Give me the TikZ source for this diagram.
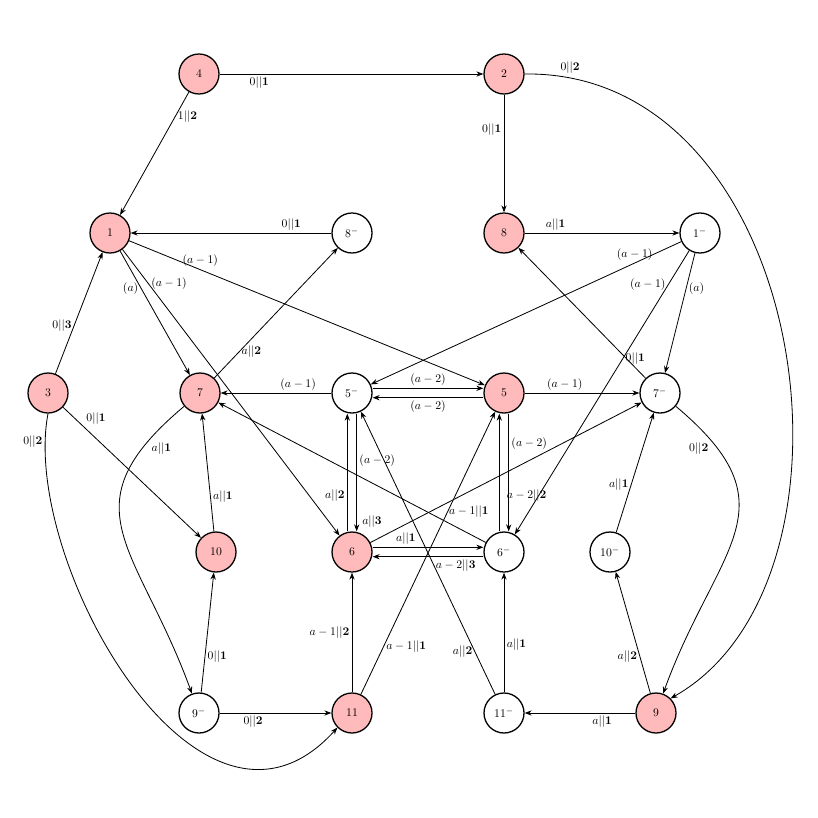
\documentclass[tikz,border=0pt]{standalone}
\usetikzlibrary{arrows.meta}
\definecolor{pk}{HTML}{FFBBBB}
\begin{document}
\begin{tikzpicture}[x=0.03cm,y=-0.03cm,
  st/.style={circle,draw,line width=1.1pt,minimum size=1.2cm,inner sep=0pt,font=\normalsize},
  red/.style={st,fill=pk},
  wht/.style={st,fill=white},
  lb/.style={font=\normalsize,inner sep=2pt},
  e/.style={-{Stealth[length=6pt,width=4.5pt]},line width=0.7pt}]
\useasboundingbox (0,0) rectangle (818,818);
\node[red] (n4) at (199,74) {4};
\node[red] (n2) at (504,74) {2};
\node[red] (n1) at (110,233) {1};
\node[wht] (m8) at (352,233) {$8^-$};
\node[red] (n8) at (504,233) {8};
\node[wht] (m1) at (700,233) {$1^-$};
\node[red] (n3) at (48,393) {3};
\node[red] (n7) at (200,393) {7};
\node[wht] (m5) at (352,393) {$5^-$};
\node[red] (n5) at (504,393) {5};
\node[wht] (m7) at (660,393) {$7^-$};
\node[red] (n10) at (216,552) {10};
\node[red] (n6) at (352,552) {6};
\node[wht] (m6) at (504,552) {$6^-$};
\node[wht] (m10) at (610,552) {$10^-$};
\node[wht] (m9) at (199,713) {$9^-$};
\node[red] (n11) at (352,713) {11};
\node[wht] (m11) at (504,713) {$11^-$};
\node[red] (n9) at (656,713) {9};

\draw[e] (n4) -- node[lb,pos=0.15,below]{$0||\mathbf{1}$} (n2);
\draw[e] (n4) -- node[lb,pos=0.2,right]{$1||\mathbf{2}$} (n1);
\draw[e] (n2) -- node[lb,pos=0.3,left]{$0||\mathbf{1}$} (n8);
\draw[e] (n2.east) .. controls (810,70) and (880,580) .. node[lb,pos=0.04,above right]{$0||\mathbf{2}$} (n9.north east);
\draw[e] (n8) -- node[lb,pos=0.2,above]{$a||\mathbf{1}$} (m1);
\draw[e] (m8) -- node[lb,pos=0.2,above]{$0||\mathbf{1}$} (n1);
\draw[e] (n1) -- node[lb,pos=0.3,left]{$(a)$} (n7);
\draw[e] (n1) -- node[lb,pos=0.2,above]{$(a-1)$} (n5);
\draw[e] (n1) -- node[lb,pos=0.12,right]{$(a-1)$} (n6);
\draw[e] (n7) -- node[lb,pos=0.2,right]{$a||\mathbf{2}$} (m8);
\draw[e] (m5) -- node[lb,pos=0.3,above]{$(a-1)$} (n7);
\draw[e] (m1) -- node[lb,pos=0.15,above]{$(a-1)$} (m5);
\draw[e] (m1) -- node[lb,pos=0.12,left]{$(a-1)$} node[lb,pos=0.38,right]{$0||\mathbf{1}$} (m6);
\draw[e] (m1) -- node[lb,pos=0.3,right]{$(a)$} (m7);
\draw[e] (m7) -- (n8);
\draw[e] (n5) -- node[lb,pos=0.35,above]{$(a-1)$} (m7);
\draw[e] ([yshift=4pt]m5.east) -- node[lb,above]{$(a-2)$} ([yshift=4pt]n5.west);
\draw[e] ([yshift=-4pt]n5.west) -- node[lb,below]{$(a-2)$} ([yshift=-4pt]m5.west-|m5.east);
\draw[e] ([xshift=4pt]m5.south) -- node[lb,pos=0.4,right]{$(a-2)$} ([xshift=4pt]n6.north);
\draw[e] ([xshift=-4pt]n6.north) -- node[lb,pos=0.3,left]{$a||\mathbf{2}$} ([xshift=-4pt]m5.south);
\draw[e] ([xshift=4pt]n5.south) -- node[lb,pos=0.25,right]{$(a-2)$} ([xshift=4pt]m6.north);
\draw[e] ([xshift=-4pt]m6.north) -- node[lb,pos=0.3,right,xshift=4pt]{$a-2||\mathbf{2}$} ([xshift=-4pt]n5.south);
\draw[e] (n6) -- node[lb,pos=0.28,below right]{$a-1||\mathbf{1}$} (m7);
\node[lb] at (372,522) {$a||\mathbf{3}$};
\draw[e] ([yshift=4pt]n6.east) -- node[lb,pos=0.3,above]{$a||\mathbf{1}$} ([yshift=4pt]m6.west);
\draw[e] ([yshift=-4pt]m6.west) -- node[lb,pos=0.25,below]{$a-2||\mathbf{3}$} ([yshift=-4pt]n6.east);
\draw[e] (m6) -- (n7);
\draw[e] (m11) -- node[lb,pos=0.15,left]{$a||\mathbf{2}$} (m5);
\draw[e] (n11) -- node[lb,pos=0.17,right]{$a-1||\mathbf{1}$} (n5);
\draw[e] (n11) -- node[lb,pos=0.5,left]{$a-1||\mathbf{2}$} (n6);
\draw[e] (m11) -- node[lb,pos=0.4,right]{$a||\mathbf{1}$} (m6);
\draw[e] (n9) -- node[lb,pos=0.3,below]{$a||\mathbf{1}$} (m11);
\draw[e] (n9) -- node[lb,pos=0.3,left]{$a||\mathbf{2}$} (m10);
\draw[e] (m10) -- node[lb,pos=0.4,left]{$a||\mathbf{1}$} (m7);
\draw[e] (m7) to[out=-40,in=70,looseness=1.4] node[lb,pos=0.12,below left]{$0||\mathbf{2}$} (n9);
\draw[e] (n3) -- node[lb,pos=0.4,left]{$0||\mathbf{3}$} (n1);
\draw[e] (n3) -- node[lb,pos=0.15,above right]{$0||\mathbf{1}$} (n10);
\draw[e] (n3.south) .. controls (20,560) and (200,880) .. node[lb,pos=0.06,left]{$0||\mathbf{2}$} (n11.south west);
\draw[e] (n7) to[out=-140,in=110,looseness=1.4] node[lb,pos=0.12,below right]{$a||\mathbf{1}$} (m9);
\draw[e] (n10) -- node[lb,pos=0.3,right]{$a||\mathbf{1}$} (n7);
\draw[e] (m9) -- node[lb,pos=0.3,right]{$0||\mathbf{1}$} (n10);
\draw[e] (m9) -- node[lb,pos=0.3,below]{$0||\mathbf{2}$} (n11);
\end{tikzpicture}
\end{document}
